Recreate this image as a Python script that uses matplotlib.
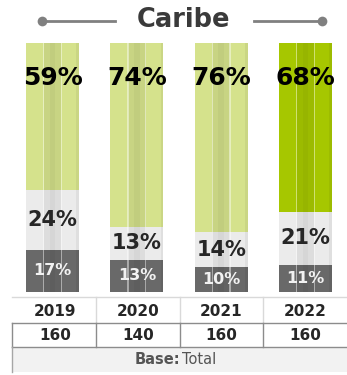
import numpy as np
import matplotlib.pyplot as plt
from matplotlib.lines import Line2D
from matplotlib.patches import Rectangle

years = ["2019", "2020", "2021", "2022"]
bases = ["160", "140", "160", "160"]
top_vals = [59, 74, 76, 68]
mid_vals = [24, 13, 14, 21]
low_vals = [17, 13, 10, 11]

top_colors = ["#d5e28c", "#d5e28c", "#d5e28c", "#a6c700"]
mid_color = "#ebebeb"
low_color = "#696969"

W, H = 347, 375
fig = plt.figure(figsize=(W / 100, H / 100), dpi=100)
fig.patch.set_facecolor("white")

# pixel helpers
def fx(px):
    return px / W

def fy(py):
    return 1 - py / H

# bar axes: bars span y 43..292 px, centres at 52.5 + 84.33*i
step = 84.33
x0 = 52.5
ax = fig.add_axes([0, fy(292), 1, (292 - 43) / H])
ax.set_xlim(-x0 / step, (W - x0) / step)
ax.set_ylim(0, 100)
ax.axis("off")

x = np.arange(len(years))
bw = 53 / step
low = np.array(low_vals)
mid = np.array(mid_vals)
top = np.array(top_vals)

ax.bar(x, low, bw, color=low_color)
ax.bar(x, mid, bw, bottom=low, color=mid_color)
ax.bar(x, top, bw, bottom=low + mid, color=top_colors)

# cylinder-like stripes: darker middle third, thin light seams
tot = low + mid + top
ax.bar(x, tot, bw / 3, color="black", alpha=0.06, linewidth=0)
ax.bar(x, tot, bw / 9, color="black", alpha=0.03, linewidth=0)
for s in [-bw / 6, bw / 6]:
    ax.bar(x + s, tot, bw / 50, color="white", alpha=0.45, linewidth=0)
ax.bar(x + bw / 2 - bw / 40, tot, bw / 20, color="black", alpha=0.05, linewidth=0)

for i in range(len(years)):
    ax.text(x[i], 86, f"{top[i]}%", ha="center", va="center",
            fontsize=18, fontweight="bold", color="black")
    ax.text(x[i], low[i] + mid[i] / 2, f"{mid[i]}%", ha="center", va="center",
            fontsize=15, fontweight="bold", color="#262626")
    ax.text(x[i], low[i] / 2, f"{low[i]}%", ha="center", va="center",
            fontsize=11.5, fontweight="bold", color="#f2f2f2")

# title with decorative lines
fig.text(fx(184), fy(20), "Caribe", ha="center", va="center", fontsize=18.5,
         fontweight="bold", color="#3a3a3a")
for xa, xb in [(42, 115), (254, 322)]:
    fig.add_artist(Line2D([fx(xa), fx(xb)], [fy(21), fy(21)], color="#808080", lw=2))
for xd in [42, 322]:
    fig.add_artist(Line2D([fx(xd)], [fy(21)], marker="o", markersize=7,
                          color="#808080", markeredgewidth=0))

# table
cols = [12, 96, 180, 263, 347]
light = "#d9d9d9"
dark = "#8c8c8c"
fig.add_artist(Line2D([fx(12), fx(347)], [fy(297), fy(297)], color=light, lw=1))
for c in cols[1:4]:
    fig.add_artist(Line2D([fx(c), fx(c)], [fy(297), fy(323)], color=light, lw=1))
fig.add_artist(Rectangle((fx(12), fy(372)), fx(347 - 12), (372 - 347) / H,
                         facecolor="#f2f2f2", edgecolor="none"))
fig.add_artist(Line2D([fx(12), fx(347)], [fy(323), fy(323)], color=dark, lw=1))
fig.add_artist(Line2D([fx(12), fx(347)], [fy(347), fy(347)], color=dark, lw=1))
for c in cols[1:4]:
    fig.add_artist(Line2D([fx(c), fx(c)], [fy(323), fy(347)], color=dark, lw=1))
fig.add_artist(Line2D([fx(12), fx(12)], [fy(323), fy(347)], color=dark, lw=1))
fig.add_artist(Line2D([fx(12), fx(12)], [fy(347), fy(372)], color="#a6a6a6", lw=1))

for i in range(len(years)):
    xc = (cols[i] + cols[i + 1]) / 2 if i > 0 else (12 + 96) / 2 + 1
    fig.text(fx(xc), fy(311), years[i], ha="center", va="center", fontsize=11,
             fontweight="bold", color="#262626")
    fig.text(fx(xc), fy(336), bases[i], ha="center", va="center", fontsize=11,
             fontweight="bold", color="#262626")

fig.text(fx(180), fy(360), "Base:", ha="right", va="center", fontsize=10.5,
         fontweight="bold", color="#555555")
fig.text(fx(182), fy(360), "Total", ha="left", va="center", fontsize=10.5,
         color="#555555")

fig.savefig("out.png", dpi=100, facecolor="white")
